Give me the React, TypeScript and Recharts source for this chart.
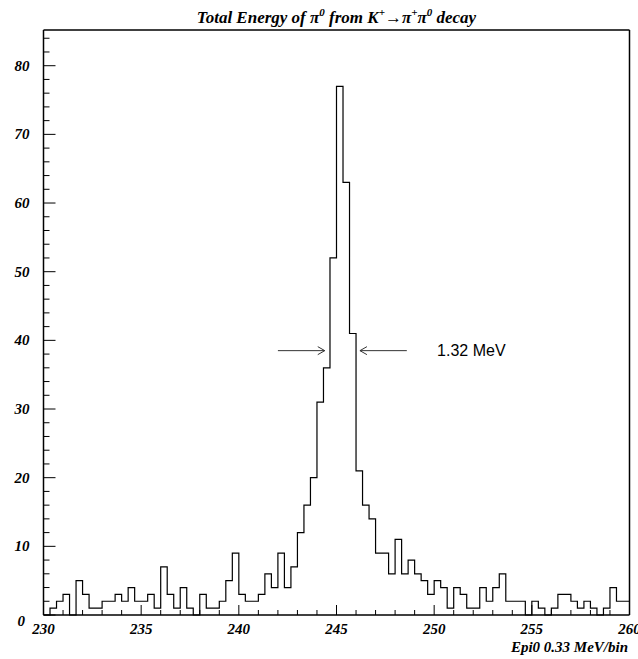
import React from "react";
import {
  LineChart,
  Line,
  XAxis,
  YAxis,
  ReferenceLine,
} from "recharts";

// Epi0 histogram, 90 bins of 1/3 MeV from 230 to 260
const X_MIN = 230;
const X_MAX = 260;
const BIN_WIDTH = 1 / 3;
const Y_MAX = 85.2;

const COUNTS = [
  0, 1, 2, 3, 0, 5, 3, 1, 1, 2,
  2, 3, 2, 4, 2, 2, 3, 1, 7, 3,
  1, 4, 1, 0, 3, 1, 1, 2, 5, 9,
  3, 2, 2, 3, 6, 4, 9, 4, 7, 12,
  16, 20, 31, 36, 52, 77, 63, 41, 21, 16,
  14, 9, 9, 6, 11, 6, 8, 6, 5, 3,
  5, 4, 1, 4, 3, 1, 1, 4, 2, 4,
  6, 2, 2, 2, 0, 2, 1, 0, 1, 3,
  3, 2, 1, 2, 1, 0, 1, 4, 2, 2,
];

const X_TICKS = [
  230, 231, 232, 233, 234, 235, 236, 237, 238, 239, 240, 241, 242, 243, 244, 245,
  246, 247, 248, 249, 250, 251, 252, 253, 254, 255, 256, 257, 258, 259, 260,
];
const Y_TICKS = [
  0, 2, 4, 6, 8, 10, 12, 14, 16, 18, 20, 22, 24, 26, 28, 30, 32, 34, 36, 38, 40,
  42, 44, 46, 48, 50, 52, 54, 56, 58, 60, 62, 64, 66, 68, 70, 72, 74, 76, 78, 80,
  82, 84,
];

const FWHM_LABEL = "1.32 MeV";
const FWHM_Y = 38.5;
const LEFT_ARROW = [242.0, 244.4];
const RIGHT_ARROW = [248.6, 246.2];

// step line: each bin's lower edge, plus a closing point at the upper edge
const data = COUNTS.map((c, i) => ({ x: X_MIN + i * BIN_WIDTH, c }));
data.push({ x: X_MAX, c: COUNTS[COUNTS.length - 1] });

const axisFont = {
  fontFamily: "'Liberation Serif', 'Times New Roman', serif",
  fontWeight: "bold" as const,
  fontStyle: "italic" as const,
  fontSize: 15,
};

const XTick = (props: any) => {
  const { x, y, payload } = props;
  const major = payload.value % 5 === 0;
  return (
    <g>
      <line x1={x} x2={x} y1={y} y2={y - (major ? 10 : 5)} stroke="#000" strokeWidth={1} />
      {major && (
        <text x={x} y={y + 19} textAnchor="middle" fill="#000" style={axisFont}>
          {payload.value}
        </text>
      )}
    </g>
  );
};

const YTick = (props: any) => {
  const { x, y, payload } = props;
  const v = payload.value;
  const major = v % 10 === 0;
  return (
    <g>
      <line x1={x} x2={x + (major ? 12 : 6)} y1={y} y2={y} stroke="#000" strokeWidth={1} />
      {major && (
        <text
          x={v === 0 ? x - 26 : x - 14}
          y={v === 0 ? y + 11 : y + 5}
          textAnchor={v === 0 ? "start" : "end"}
          fill="#000"
          style={axisFont}
        >
          {v}
        </text>
      )}
    </g>
  );
};

const Arrow = (props: any) => {
  const { x1, y1, x2, y2 } = props;
  const dir = x2 > x1 ? 1 : -1;
  return (
    <g>
      <line x1={x1} y1={y1} x2={x2} y2={y2} stroke="#333" strokeWidth={1} />
      <polyline
        points={`${x2 - dir * 7},${y2 - 4} ${x2},${y2} ${x2 - dir * 7},${y2 + 4}`}
        fill="none"
        stroke="#333"
        strokeWidth={1}
      />
    </g>
  );
};

const FwhmText = (props: any) => {
  const { x1, y1 } = props;
  return (
    <text
      x={x1}
      y={y1 + 5}
      fill="#000"
      style={{ fontFamily: "'Liberation Sans', Arial, sans-serif", fontSize: 16 }}
    >
      {FWHM_LABEL}
    </text>
  );
};

export default function App() {
  return (
    <div style={{ position: "absolute", left: 0, top: 0, width: 638, height: 659, background: "#fff" }}>
      <div
        style={{
          position: "absolute",
          left: 43,
          top: 3,
          width: 587,
          textAlign: "center",
          lineHeight: "19px",
          ...axisFont,
          fontSize: 17,
        }}
      >
        Total Energy of π<sup style={{ fontSize: 11 }}>0</sup> from K
        <sup style={{ fontSize: 11 }}>+</sup>→π<sup style={{ fontSize: 11 }}>+</sup>π
        <sup style={{ fontSize: 11 }}>0</sup> decay
      </div>
      <LineChart
        width={638}
        height={659}
        data={data}
        margin={{ top: 30, right: 8.5, bottom: 0, left: 0 }}
      >
        <XAxis
          dataKey="x"
          type="number"
          domain={[X_MIN, X_MAX]}
          ticks={X_TICKS}
          interval={0}
          height={44}
          tickSize={0}
          tickMargin={0}
          tickLine={false}
          axisLine={{ stroke: "#000", strokeWidth: 1.5 }}
          tick={XTick}
        />
        <YAxis
          type="number"
          domain={[0, Y_MAX]}
          ticks={Y_TICKS}
          interval={0}
          width={43.5}
          tickSize={0}
          tickMargin={0}
          tickLine={false}
          axisLine={{ stroke: "#000", strokeWidth: 1.5 }}
          tick={YTick}
        />
        <ReferenceLine y={Y_MAX} stroke="#000" strokeWidth={1.5} ifOverflow="visible" />
        <ReferenceLine x={X_MAX} stroke="#000" strokeWidth={1.5} ifOverflow="visible" />
        <Line
          type="stepAfter"
          dataKey="c"
          stroke="#000"
          strokeWidth={1.2}
          dot={false}
          isAnimationActive={false}
        />
        <ReferenceLine
          segment={[
            { x: LEFT_ARROW[0], y: FWHM_Y },
            { x: LEFT_ARROW[1], y: FWHM_Y },
          ]}
          shape={Arrow}
        />
        <ReferenceLine
          segment={[
            { x: RIGHT_ARROW[0], y: FWHM_Y },
            { x: RIGHT_ARROW[1], y: FWHM_Y },
          ]}
          shape={Arrow}
        />
        <ReferenceLine
          segment={[
            { x: 250.15, y: FWHM_Y },
            { x: 253, y: FWHM_Y },
          ]}
          shape={FwhmText}
        />
      </LineChart>
      <div
        style={{
          position: "absolute",
          right: 10,
          top: 638,
          lineHeight: "18px",
          ...axisFont,
        }}
      >
        Epi0 0.33 MeV/bin
      </div>
    </div>
  );
}
